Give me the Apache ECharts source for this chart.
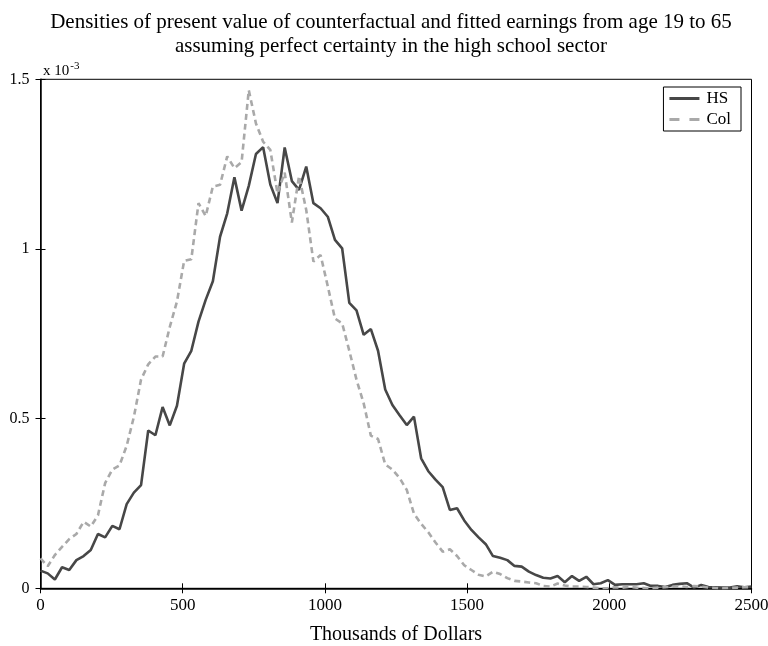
<!DOCTYPE html>
<html>
<head>
<meta charset="utf-8">
<script src="https://cdn.jsdelivr.net/npm/echarts@6/dist/echarts.min.js"></script>
<style>
html,body{margin:0;padding:0;background:#fff;}
#chart{width:768px;height:646px;}
</style>
</head>
<body>
<div id="chart"></div>
<script>
// Grid: 100 evaluation points from 0 to 2500 (thousands of dollars)
const xMin = 0, xMax = 2500, nPoints = 100;
const xTicks = [0, 500, 1000, 1500, 2000, 2500];
const yTicks = [0, 0.5, 1, 1.5];
// Densities, in units of 10^-3
const hsValues = [
  0.052, 0.044, 0.026, 0.062, 0.054, 0.083, 0.095, 0.113, 0.160, 0.150,
  0.184, 0.174, 0.248, 0.282, 0.304, 0.465, 0.451, 0.534, 0.480, 0.538,
  0.662, 0.700, 0.786, 0.850, 0.905, 1.036, 1.105, 1.211, 1.113, 1.186,
  1.280, 1.300, 1.190, 1.135, 1.299, 1.200, 1.174, 1.243, 1.135, 1.120,
  1.095, 1.027, 1.002, 0.841, 0.819, 0.747, 0.764, 0.700, 0.586, 0.540,
  0.510, 0.481, 0.506, 0.383, 0.345, 0.320, 0.298, 0.231, 0.236, 0.200,
  0.172, 0.150, 0.130, 0.095, 0.090, 0.083, 0.066, 0.064, 0.049, 0.039,
  0.031, 0.029, 0.036, 0.018, 0.036, 0.022, 0.034, 0.012, 0.015, 0.024,
  0.010, 0.012, 0.012, 0.012, 0.015, 0.007, 0.007, 0.004, 0.010, 0.013,
  0.015, 0.002, 0.010, 0.004, 0.003, 0.002, 0.002, 0.006, 0.003, 0.005
];
const colValues = [
  0.088, 0.065, 0.098, 0.122, 0.145, 0.160, 0.196, 0.182, 0.215, 0.310,
  0.350, 0.362, 0.420, 0.505, 0.615, 0.660, 0.683, 0.683, 0.770, 0.845,
  0.965, 0.970, 1.135, 1.097, 1.184, 1.189, 1.273, 1.238, 1.256, 1.468,
  1.370, 1.316, 1.292, 1.164, 1.225, 1.078, 1.215, 1.115, 0.963, 0.982,
  0.890, 0.795, 0.781, 0.700, 0.615, 0.545, 0.450, 0.440, 0.365, 0.350,
  0.325, 0.290, 0.220, 0.190, 0.165, 0.135, 0.108, 0.115, 0.095, 0.068,
  0.054, 0.040, 0.035, 0.049, 0.042, 0.030, 0.022, 0.020, 0.017, 0.015,
  0.007, 0.005, 0.014, 0.008, 0.005, 0.005, 0.004, 0.002, 0.000, 0.001,
  0.003, 0.002, 0.004, 0.002, 0.001, 0.000, 0.002, 0.003, 0.005, 0.006,
  0.004, 0.007, 0.005, 0.002, 0.001, 0.000, 0.001, 0.002, 0.003, 0.003
];
const seriesNames = ['HS', 'Col'];
const titleLines = ['Densities of present value of counterfactual and fitted earnings from age 19 to 65',
                    'assuming perfect certainty in the high school sector'];
const xName = 'Thousands of Dollars';

const step = (xMax - xMin) / (nPoints - 1);
const xs = hsValues.map((_, i) => xMin + i * step);
const pairs = vals => vals.map((v, i) => [xs[i], v]);

const FONT = 'Liberation Serif';
const HS_COLOR = '#474747', COL_COLOR = '#a9a9a9';
const chart = echarts.init(document.getElementById('chart'), null, {renderer: 'canvas'});
const tickStyle = {show: true, inside: true, length: 5, lineStyle: {color: '#000', width: 1}};
const option = {
  backgroundColor: '#fff',
  animation: false,
  textStyle: {fontFamily: FONT},
  title: [{
    text: titleLines.join('\n'),
    left: 386, top: 5, textAlign: 'center',
    textStyle: {fontFamily: FONT, fontSize: 21, fontWeight: 'normal', color: '#000', lineHeight: 24}
  }, {
    text: '{a|x 10}{b|-3}',
    left: 38, top: 56,
    textStyle: {fontWeight: 'normal', rich: {
      a: {fontFamily: FONT, fontSize: 15, fontWeight: 'normal', color: '#000', verticalAlign: 'bottom'},
      b: {fontFamily: FONT, fontSize: 11, fontWeight: 'normal', color: '#000', verticalAlign: 'top', padding: [0, 0, 7, 1]}
    }}
  }],
  legend: {
    orient: 'vertical',
    right: 27, top: 87,
    itemWidth: 30, itemHeight: 3, itemGap: 4,
    padding: [3, 10, 3, 6],
    borderColor: '#000', borderWidth: 1,
    backgroundColor: '#fff',
    textStyle: {fontFamily: FONT, fontSize: 17, color: '#000', padding: [0, 0, 0, 2]},
    data: [
      {name: seriesNames[0], icon: 'rect', itemStyle: {color: HS_COLOR}},
      {name: seriesNames[1], icon: 'path://M0,0H10V3H0Z M20,0H30V3H20Z', itemStyle: {color: COL_COLOR}}
    ]
  },
  grid: {left: 40.5, right: 16.5, top: 79.3, bottom: 57.7, show: true, borderColor: '#000', borderWidth: 1,
    containLabel: false, outerBoundsMode: 'none'},
  xAxis: [{
    type: 'value', min: xMin, max: xMax, interval: 500,
    name: xName, nameLocation: 'middle', nameGap: 36,
    nameTextStyle: {fontFamily: FONT, fontSize: 20, color: '#000'},
    axisLine: {show: true, lineStyle: {color: '#000', width: 1.5}},
    axisTick: tickStyle,
    axisLabel: {fontFamily: FONT, fontSize: 17, color: '#000', margin: 9, formatter: v => String(v)},
    splitLine: {show: false}
  }, {
    type: 'value', min: xMin, max: xMax, interval: 500, position: 'top',
    axisLine: {show: true, lineStyle: {color: '#000', width: 1}},
    axisTick: tickStyle, axisLabel: {show: false}, splitLine: {show: false}
  }],
  yAxis: [{
    type: 'value', min: 0, max: 1.5, interval: 0.5,
    axisLine: {show: true, lineStyle: {color: '#000', width: 1.5}},
    axisTick: tickStyle,
    axisLabel: {fontFamily: FONT, fontSize: 16, color: '#000', margin: 11,
      formatter: v => String(v)},
    splitLine: {show: false}
  }, {
    type: 'value', min: 0, max: 1.5, interval: 0.5, position: 'right',
    axisLine: {show: true, lineStyle: {color: '#000', width: 1}},
    axisTick: tickStyle, axisLabel: {show: false}, splitLine: {show: false}
  }],
  series: [{
    name: seriesNames[0], type: 'line', data: pairs(hsValues),
    showSymbol: false, symbol: 'none',
    lineStyle: {color: HS_COLOR, width: 2.6},
    itemStyle: {color: HS_COLOR}
  }, {
    name: seriesNames[1], type: 'line', data: pairs(colValues),
    showSymbol: false, symbol: 'none',
    lineStyle: {color: COL_COLOR, width: 2.6, type: [6, 4]},
    itemStyle: {color: COL_COLOR}
  }]
};
chart.setOption(option);
</script>
</body>
</html>
